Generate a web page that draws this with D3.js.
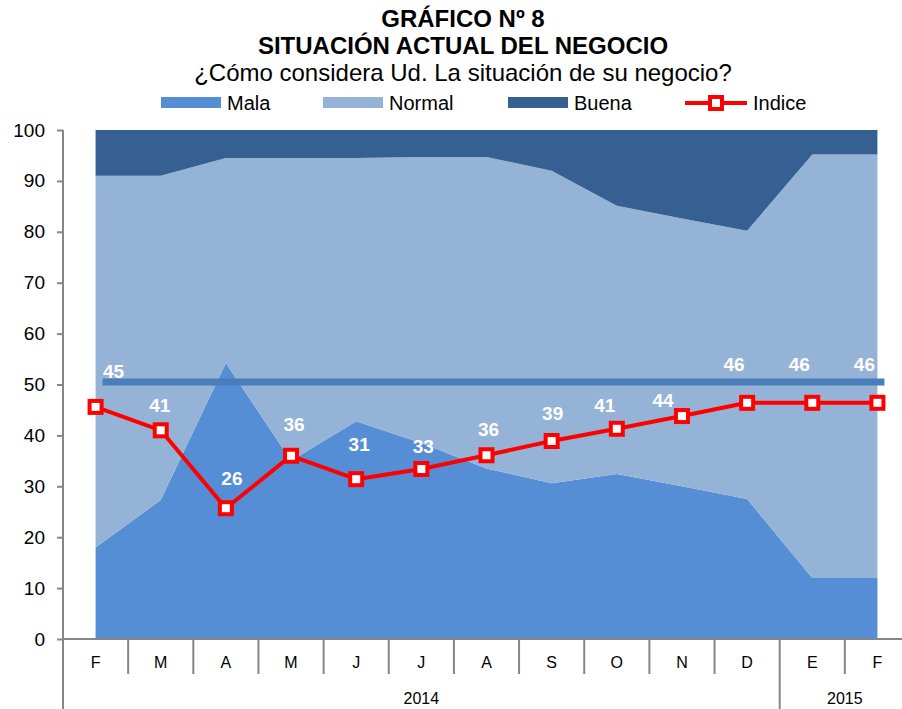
<!DOCTYPE html>
<html>
<head>
<meta charset="utf-8">
<script src="https://cdn.jsdelivr.net/npm/d3@7"></script>
<style>
  body { margin: 0; background: #fff; }
  text { font-family: "Liberation Sans", Arial, sans-serif; }
</style>
</head>
<body>
<div id="chart"></div>
<script>
// data
let months = ["F", "M", "A", "M", "J", "J", "A", "S", "O", "N", "D", "E", "F"]
let years = [{ name: "2014", from: 0, to: 10 }, { name: "2015", from: 11, to: 12 }]
let mala = [18, 27.3, 54.2, 35, 42.8, 38.5, 33.5, 30.6, 32.4, 30, 27.5, 12, 12]
let normalTop = [91, 91, 94.5, 94.5, 94.5, 94.7, 94.7, 92, 85.1, 82.6, 80.2, 95.2, 95.2]
let normal = normalTop.map((t, i) => t - mala[i])
let buena = normalTop.map(t => 100 - t)
let indice = [45.6, 41, 25.7, 36, 31.4, 33.4, 36.1, 38.9, 41.3, 43.8, 46.4, 46.4, 46.4]
let indiceLabels = [45, 41, 26, 36, 31, 33, 36, 39, 41, 44, 46, 46, 46]
let refValue = 50.5
let yTicks = d3.range(0, 101, 10)

// label nudges (px), layout only
let labelDx = [18, -1, 6, 3, 3, 2, 2, 1, -12, -19, -13, -13, -13]
let labelDy = [-35, -25, -30, -31, -35, -22, -26, -27, -23, -16, -38, -38, -38]

let svgWidth = 902
let svgHeight = 709

let svg = d3.select("#chart").append("svg")
    .attr("width", svgWidth).attr("height", svgHeight)

let colors = { mala: "#558ed5", normal: "#95b3d7", buena: "#366092", indice: "#ff0000", ref: "#4a7ebb" }

// scales
let x = d3.scaleBand().domain(d3.range(months.length)).range([63, 910])
let cx = i => x(i) + x.bandwidth() / 2
let y = d3.scaleLinear().domain([0, 100]).range([639, 130])

// stacked areas
let rows = months.map((m, i) => ({ i: i, mala: mala[i], normal: normal[i], buena: buena[i] }))
let stack = d3.stack().keys(["mala", "normal", "buena"])(rows)
let area = d3.area()
    .x(d => cx(d.data.i))
    .y0(d => y(d[0]))
    .y1(d => y(d[1]))

svg.append("g").selectAll("path")
    .data(stack)
    .join("path")
    .attr("d", area)
    .attr("fill", d => colors[d.key])

// reference line
svg.append("line")
    .attr("x1", cx(0) + 7).attr("x2", cx(months.length - 1) + 7)
    .attr("y1", y(refValue)).attr("y2", y(refValue))
    .attr("stroke", colors.ref).attr("stroke-width", 7)

// y axis
let yAxis = svg.append("g")
    .attr("transform", "translate(63,0)")
    .call(d3.axisLeft(y).tickValues(yTicks).tickSize(6).tickPadding(12))
yAxis.select(".domain").remove()
yAxis.selectAll("line").attr("stroke", "#868686").attr("stroke-width", 2)
yAxis.selectAll("text").attr("font-size", 19).attr("fill", "#000")
    .attr("font-family", "Liberation Sans, Arial, sans-serif")

let axisColor = "#868686"
// vertical axis line down to the bottom
svg.append("line").attr("x1", 63).attr("x2", 63).attr("y1", y(100)).attr("y2", svgHeight)
    .attr("stroke", axisColor).attr("stroke-width", 2)
// horizontal axis line
svg.append("line").attr("x1", 63).attr("x2", svgWidth).attr("y1", y(0)).attr("y2", y(0))
    .attr("stroke", axisColor).attr("stroke-width", 2)

// category separators
svg.append("g").selectAll("line")
    .data(d3.range(1, months.length))
    .join("line")
    .attr("x1", i => x(i)).attr("x2", i => x(i))
    .attr("y1", y(0))
    .attr("y2", i => years.some(yr => yr.from === i) ? svgHeight : y(0) + 35)
    .attr("stroke", axisColor).attr("stroke-width", 2)

svg.append("g").selectAll("text")
    .data(months)
    .join("text")
    .attr("x", (d, i) => cx(i))
    .attr("y", 668)
    .attr("text-anchor", "middle")
    .attr("font-size", 16)
    .text(d => d)

svg.append("g").selectAll("text")
    .data(years)
    .join("text")
    .attr("x", d => (x(d.from) + x(d.to) + x.bandwidth()) / 2)
    .attr("y", 704)
    .attr("text-anchor", "middle")
    .attr("font-size", 16)
    .text(d => d.name)

// indice line
let line = d3.line().x((d, i) => cx(i)).y(d => y(d))
svg.append("path")
    .datum(indice)
    .attr("d", line)
    .attr("fill", "none")
    .attr("stroke", colors.indice)
    .attr("stroke-width", 4)
    .attr("stroke-linejoin", "round")

svg.append("g").selectAll("rect")
    .data(indice)
    .join("rect")
    .attr("x", (d, i) => cx(i) - 6)
    .attr("y", d => y(d) - 6)
    .attr("width", 12).attr("height", 12)
    .attr("fill", "#fff")
    .attr("stroke", colors.indice).attr("stroke-width", 4)

svg.append("g").selectAll("text")
    .data(indiceLabels)
    .join("text")
    .attr("x", (d, i) => cx(i) + labelDx[i])
    .attr("y", (d, i) => y(indice[i]) + labelDy[i])
    .attr("text-anchor", "middle")
    .attr("dominant-baseline", "central")
    .attr("font-size", 19)
    .attr("font-weight", "bold")
    .attr("fill", "#fff")
    .text(d => d)

// titles
let titles = [
    { text: "GRÁFICO Nº 8", y: 27, bold: true, size: 24 },
    { text: "SITUACIÓN ACTUAL DEL NEGOCIO", y: 54, bold: true, size: 24 },
    { text: "¿Cómo considera Ud. La situación de su negocio?", y: 81, bold: false, size: 24 }
]
svg.append("g").selectAll("text")
    .data(titles)
    .join("text")
    .attr("x", 463)
    .attr("y", d => d.y)
    .attr("text-anchor", "middle")
    .attr("font-size", d => d.size)
    .attr("font-weight", d => d.bold ? "bold" : "normal")
    .text(d => d.text)

// legend
let legendItems = [
    { name: "Mala", key: "mala", x: 161 },
    { name: "Normal", key: "normal", x: 323 },
    { name: "Buena", key: "buena", x: 508 },
    { name: "Indice", key: "indice", x: 685 }
]
let legend = svg.append("g")
legendItems.forEach(item => {
    let g = legend.append("g").attr("transform", `translate(${item.x},103)`)
    if (item.key === "indice") {
        g.append("line").attr("x1", 0).attr("x2", 62).attr("y1", 0).attr("y2", 0)
            .attr("stroke", colors.indice).attr("stroke-width", 4)
        g.append("rect").attr("x", 25).attr("y", -6).attr("width", 12).attr("height", 12)
            .attr("fill", "#fff").attr("stroke", colors.indice).attr("stroke-width", 4)
    } else {
        g.append("rect").attr("x", 0).attr("y", -6).attr("width", 60).attr("height", 11)
            .attr("fill", colors[item.key])
    }
    g.append("text")
        .attr("x", item.key === "indice" ? 68 : 66)
        .attr("y", 7)
        .attr("font-size", 20)
        .text(item.name)
})
</script>
</body>
</html>
